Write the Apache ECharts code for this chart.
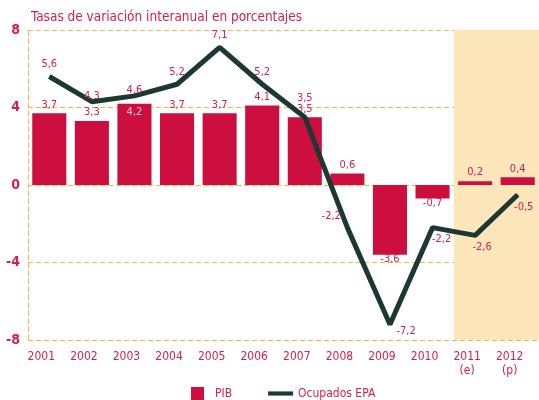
<!DOCTYPE html>
<html>
<head>
<meta charset="utf-8">
<script src="https://cdn.jsdelivr.net/npm/echarts@6/dist/echarts.min.js"></script>
<style>
html, body { margin: 0; padding: 0; background: #fff; }
#container { width: 539px; height: 400px; }
</style>
</head>
<body>
<div id="container"></div>
<script>
var years = ['2001', '2002', '2003', '2004', '2005', '2006', '2007', '2008', '2009', '2010', '2011\n(e)', '2012\n(p)'];
var pib = [3.7, 3.3, 4.2, 3.7, 3.7, 4.1, 3.5, 0.6, -3.6, -0.7, 0.2, 0.4];
var ocupados = [5.6, 4.3, 4.6, 5.2, 7.1, 5.2, 3.5, -2.2, -7.2, -2.2, -2.6, -0.5];

// label placement per point: [position, dx, dy]
var pibLabels = [
    ['top', 0, 0], ['top', 0, 0], ['insideTop', 0, 0], ['top', 0, 0], ['top', 0, 0], ['top', 0, 0],
    ['top', 0, 0], ['top', 0, 0], ['bottom', 0, -4], ['bottom', 0, -4], ['top', 0, 0], ['top', 0, 0]
];
var ocupLabels = [
    ['top', 0, 0], ['top', 0, 6], ['top', 0, 6], ['top', 0, 0], ['top', 0, 0], ['top', 0, 0],
    ['top', 0, -7], ['left', 0, -11], ['right', 0, 7], ['bottom', 9, 0], ['bottom', 7, 0], ['bottom', 6, 0]
];

var red = '#cc0f3f';
var textRed = '#d3204f';
var gridOrange = '#f5b84a';
var font = '"DejaVu Sans Condensed", "Liberation Sans Narrow", sans-serif';

function fmt(v) {
    return String(v).replace('.', ',');
}

var dom = document.getElementById('container');
var myChart = echarts.init(dom);

var option = {
    animation: false,
    textStyle: { fontFamily: font },
    title: {
        text: 'Tasas de variación interanual en porcentajes',
        left: 26,
        top: 5,
        textStyle: { color: textRed, fontSize: 13.5, fontWeight: 'normal', fontFamily: font }
    },
    legend: {
        top: 382,
        left: 186,
        itemGap: 36,
        itemWidth: 25,
        itemHeight: 13,
        textStyle: { color: textRed, fontSize: 12, fontFamily: font },
        data: [
            { name: 'PIB', icon: 'path://M0,0h13v13h-13z', itemStyle: { color: red } },
            { name: 'Ocupados EPA', icon: 'path://M0,0h24v4h-24z' }
        ]
    },
    grid: { left: 28, right: 0, top: 30, bottom: 60, outerBoundsMode: 'none', containLabel: false },
    xAxis: {
        type: 'category',
        data: years,
        axisLine: { show: false, onZero: false },
        axisTick: { show: false },
        axisLabel: {
            interval: 0,
            hideOverlap: false,
            showMinLabel: true,
            showMaxLabel: true,
            color: textRed, fontSize: 12, fontFamily: font, margin: 10, lineHeight: 14,
            padding: [0, 16, 0, 0]
        }
    },
    yAxis: {
        type: 'value',
        min: -8,
        max: 8,
        interval: 4,
        axisLine: { show: true, lineStyle: { color: gridOrange, type: [5, 3], width: 1 } },
        axisTick: { show: false },
        splitLine: { lineStyle: { color: gridOrange, type: [5, 3], width: 1 } },
        axisLabel: { color: textRed, fontSize: 14, fontWeight: 'bold', margin: 8, fontFamily: font }
    },
    series: [{
        name: 'PIB',
        type: 'bar',
        barCategoryGap: '20%',
        itemStyle: { color: red },
        data: pib.map(function (v, i) {
            var l = pibLabels[i];
            return {
                value: v,
                label: {
                    show: true,
                    position: l[0],
                    offset: [l[1], l[2]],
                    distance: 3,
                    color: l[0] === 'insideTop' ? '#f4c8d3' : textRed
                }
            };
        }),
        label: {
            fontSize: 11,
            fontFamily: font,
            formatter: function (p) { return fmt(p.value); }
        },
        markArea: {
            silent: true,
            itemStyle: { color: '#fde6ba' },
            data: [[{ xAxis: '2011\n(e)' }, { xAxis: '2012\n(p)' }]]
        },
        z: 2
    }, {
        name: 'Ocupados EPA',
        type: 'line',
        symbol: 'circle',
        symbolSize: 1,
        showSymbol: true,
        lineStyle: { color: '#1b3833', width: 5 },
        itemStyle: { color: '#1b3833' },
        data: ocupados.map(function (v, i) {
            var l = ocupLabels[i];
            return {
                value: v,
                label: { show: true, position: l[0], offset: [l[1], l[2]], distance: 6 }
            };
        }),
        label: {
            show: true,
            color: textRed,
            fontSize: 11,
            fontFamily: font,
            formatter: function (p) { return fmt(p.value); }
        },
        z: 3
    }]
};

myChart.setOption(option, true);
</script>
</body>
</html>
